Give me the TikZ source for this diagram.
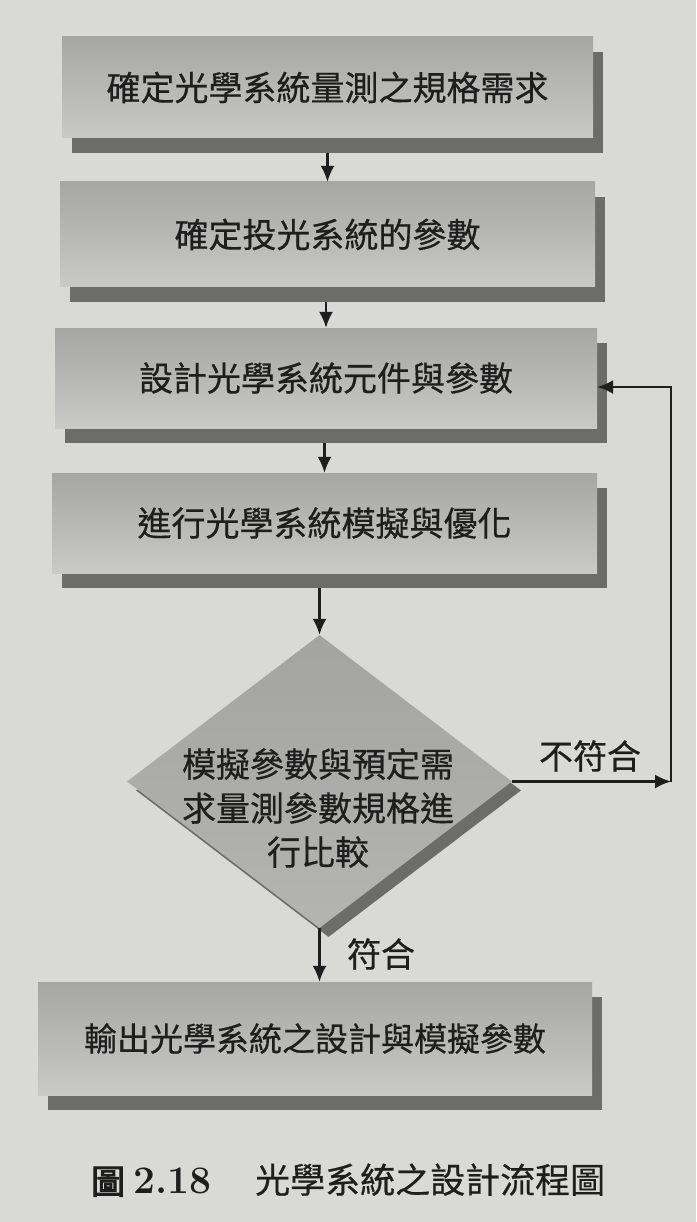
\documentclass[tikz,border=0pt]{standalone}
\usepackage{fontspec}
\newfontfamily\cjk[FakeBold=0.5]{Noto Sans CJK TC}
\newfontfamily\cjkbold[FakeBold=3]{Noto Sans CJK TC}
\newfontfamily\numfont{Latin Modern Roman}
\usetikzlibrary{shapes.geometric,arrows.meta,calc}
\definecolor{pagebg}{HTML}{D9D9D5}
\definecolor{boxtop}{HTML}{A6A6A5}
\definecolor{boxbot}{HTML}{C9C9C7}
\definecolor{shadowc}{HTML}{6C6C6B}
\definecolor{ink}{HTML}{1E1E1E}
\definecolor{diatop}{HTML}{A3A3A2}
\definecolor{diabot}{HTML}{B4B4B2}
\begin{document}
\begin{tikzpicture}[x=1pt,y=-1pt,
  stepbox/.style={rectangle, inner sep=0pt, top color=boxtop, bottom color=boxbot, draw=none, text=ink, font=\cjk\fontsize{34}{40}\selectfont},
  shadowbox/.style={rectangle, inner sep=0pt, fill=shadowc, draw=none},
  arr/.style={draw=ink, line width=2.1pt, -{Latex[length=16pt,width=14pt]}},
  lbl/.style={text=ink, font=\cjk\fontsize{34}{40}\selectfont, inner sep=0pt}]
\fill[pagebg] (0,0) rectangle (696,1222);
\useasboundingbox (0,0) rectangle (696,1222);

% box 1
\node[shadowbox, minimum width=531pt, minimum height=101pt] (b1s) at (337.5,102.5) {};
\node[stepbox, minimum width=531pt, minimum height=101pt] (b1) at (327.5,87.5) {確定光學系統量測之規格需求};
% box 2
\node[shadowbox, minimum width=535pt, minimum height=105pt] (b2s) at (337.5,249.5) {};
\node[stepbox, minimum width=535pt, minimum height=105pt] (b2) at (327.5,234.5) {確定投光系統的參數};
% box 3
\node[shadowbox, minimum width=542pt, minimum height=100pt] (b3s) at (336,393) {};
\node[stepbox, minimum width=542pt, minimum height=100pt] (b3) at (326,378) {設計光學系統元件與參數};
% box 4
\node[shadowbox, minimum width=545pt, minimum height=100pt] (b4s) at (334.5,538) {};
\node[stepbox, minimum width=545pt, minimum height=100pt] (b4) at (324.5,523) {進行光學系統模擬與優化};
% diamond
\node[diamond, inner sep=0pt, fill=shadowc, minimum width=385pt, minimum height=293pt] (dias) at (328.5,790.5) {};
\node[diamond, inner sep=0pt, top color=diatop, bottom color=diabot, minimum width=385pt, minimum height=293pt] (dia) at (319.5,781.5) {};
\node[lbl, align=center, font=\cjk\fontsize{34}{44}\selectfont] (diatext) at (318,808) {模擬參數與預定需\\求量測參數規格進\\行比較};
% box 5
\node[shadowbox, minimum width=554pt, minimum height=113pt] (b5s) at (325,1053.5) {};
\node[stepbox, minimum width=554pt, minimum height=113pt, font=\cjk\fontsize{33}{40}\selectfont] (b5) at (315,1038.5) {輸出光學系統之設計與模擬參數};

% arrows
\draw[arr] (b1.south |- b1s.south) -- (b2.north);
\draw[arr] (b3.north |- b2s.south) -- (b3.north);
\draw[arr] (b4.north |- b3s.south) -- (b4.north);
\draw[arr] (dia.north |- b4s.south) -- (dia.north);
\draw[arr] (dia.south) -- (dia.south |- b5.north);

% feedback loop
\coordinate (fb) at (671,0);
\coordinate (fbtop) at (671,387);
\draw[arr] (dia.east) -- (dia.east -| fb);
\draw[arr] (dia.east -| fb) -- (fbtop) -- (b3.east |- fbtop);

% labels
\node[lbl] (nf) at (590,756) {不符合};
\node[lbl] (ok) at (381,954) {符合};

% caption
\node[anchor=base west, inner sep=0pt, text=ink, font=\cjkbold\fontsize{34}{40}\selectfont] (cap1) at (91,1194) {圖};
\node[anchor=base west, inner sep=0pt, text=ink, font=\numfont\bfseries\fontsize{39}{40}\selectfont] (cap2) at (133,1193) {2.18};
\node[anchor=base west, inner sep=0pt, text=ink, font=\cjk\fontsize{35}{40}\selectfont] (cap3) at (255,1193) {光學系統之設計流程圖};
\end{tikzpicture}
\end{document}
